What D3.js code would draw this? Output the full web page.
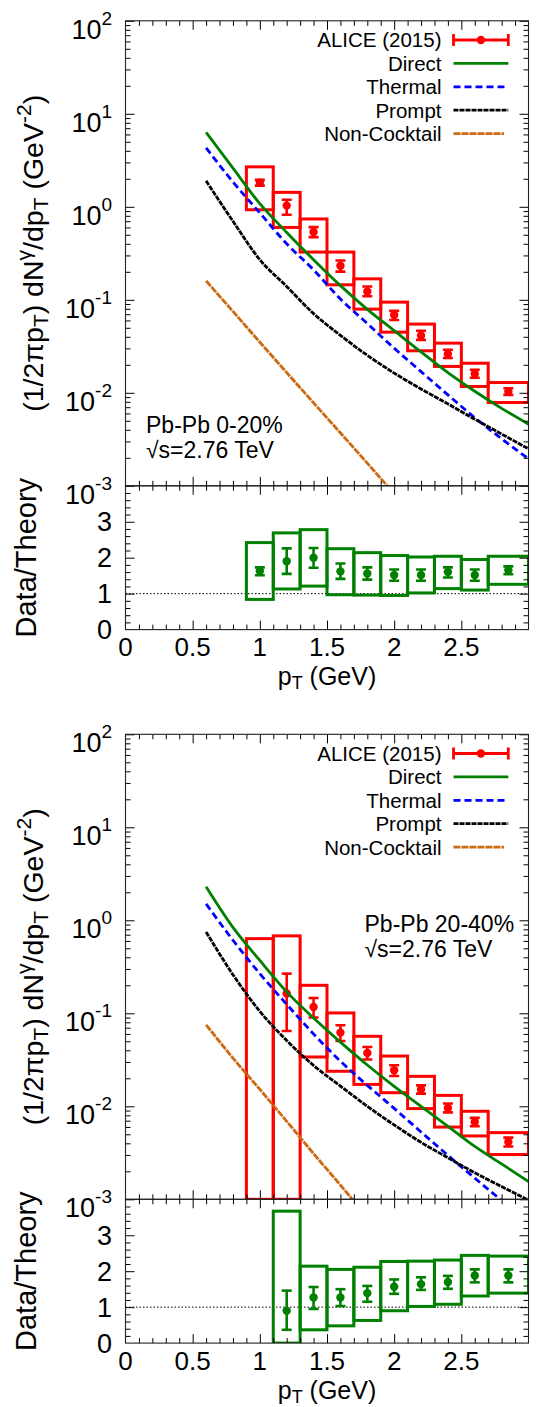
<!DOCTYPE html>
<html lang="en">
<head>
  <meta charset="UTF-8">
  <title>Direct photon spectra, Pb-Pb 2.76 TeV</title>
  <script src="https://d3js.org/d3.v7.min.js"></script>
  <style>
    * { margin: 0; padding: 0; box-sizing: border-box; }
    body { background: #fff; }
    svg { display: block; font-family: "Liberation Sans", Arial, sans-serif; }
  </style>
</head>
<body>
  <div id="chart"></div>

  <script>
    // bins (pT, GeV)
    const binCenter = [1.0, 1.2, 1.4, 1.6, 1.8, 2.0, 2.2, 2.4, 2.6, 2.85];
    const binLo = [0.9, 1.1, 1.3, 1.5, 1.7, 1.9, 2.1, 2.3, 2.5, 2.7];
    const binHi = [1.1, 1.3, 1.5, 1.7, 1.9, 2.1, 2.3, 2.5, 2.7, 3.0];

    // theory curves sampled in pT
    const curvePT = [0.6, 0.8, 1.0, 1.2, 1.4, 1.6, 1.8, 2.0, 2.2, 2.4, 2.6, 2.8, 3.0];

    // 0-20%
    const direct1 = [6.3, 2.6, 1.08, 0.53, 0.27, 0.142, 0.079, 0.0466, 0.0275, 0.0165, 0.0104, 0.0068, 0.0046];
    const thermal1 = [4.3, 1.85, 0.86, 0.40, 0.21, 0.102, 0.0556, 0.0302, 0.0169, 0.0095, 0.0054, 0.0032, 0.00195];
    const prompt1 = [1.9, 0.70, 0.27, 0.139, 0.071, 0.0415, 0.0253, 0.0163, 0.011, 0.0076, 0.0052, 0.0036, 0.0025];
    const nonCocktail1 = [0.16, 0.075, 0.035, 0.0165, 0.0078, 0.0037, 0.00175, 0.00082, null, null, null, null, null];

    const yield1 = [1.82, 1.03, 0.535, 0.232, 0.123, 0.0685, 0.0413, 0.0262, 0.0160, 0.0103];
    const stat1Lo = [1.69, 0.82, 0.472, 0.201, 0.109, 0.0607, 0.0371, 0.0237, 0.0145, 0.0095];
    const stat1Hi = [1.95, 1.19, 0.605, 0.265, 0.139, 0.076, 0.0464, 0.029, 0.0177, 0.0112];
    const sys1Lo = [0.93, 0.60, 0.326, 0.145, 0.0794, 0.0449, 0.0283, 0.0192, 0.0117, 0.00787];
    const sys1Hi = [2.69, 1.43, 0.74, 0.326, 0.168, 0.0944, 0.0548, 0.0342, 0.0208, 0.0129];

    const ratio1 = [1.63, 1.90, 2.00, 1.62, 1.56, 1.52, 1.52, 1.60, 1.52, 1.65];
    const ratio1StatLo = [1.51, 1.55, 1.72, 1.41, 1.39, 1.36, 1.36, 1.45, 1.36, 1.54];
    const ratio1StatHi = [1.73, 2.26, 2.27, 1.84, 1.73, 1.67, 1.67, 1.73, 1.67, 1.76];
    const ratio1SysLo = [0.84, 1.13, 1.21, 0.97, 0.96, 0.95, 1.02, 1.14, 1.10, 1.26];
    const ratio1SysHi = [2.42, 2.69, 2.78, 2.25, 2.14, 2.06, 2.02, 2.04, 1.95, 2.04];

    // 20-40%
    const direct2 = [2.3, 0.84, 0.37, 0.17, 0.089, 0.049, 0.0278, 0.0164, 0.0100, 0.0061, 0.0037, 0.0024, 0.00155];
    const thermal2 = [1.5, 0.61, 0.267, 0.125, 0.060, 0.0305, 0.0168, 0.0095, 0.0053, 0.00297, 0.00169, 0.00097, 0.00055];
    const prompt2 = [0.75, 0.26, 0.105, 0.051, 0.0275, 0.0165, 0.0100, 0.0063, 0.0041, 0.0028, 0.00193, 0.00137, 0.00098];
    const nonCocktail2 = [0.075, 0.033, 0.0152, 0.0069, 0.0031, 0.00142, 0.00064, null, null, null, null, null, null];

    const yield2 = [null, 0.163, 0.117, 0.062, 0.0374, 0.0244, 0.0152, 0.0096, 0.00678, 0.00413];
    const stat2Lo = [null, 0.0646, 0.090, 0.0504, 0.0318, 0.0212, 0.0137, 0.0086, 0.0061, 0.0037];
    const stat2Hi = [null, 0.267, 0.146, 0.0743, 0.0434, 0.0276, 0.0168, 0.0107, 0.0075, 0.0046];
    const sys2Lo = [null, null, 0.0339, 0.0238, 0.0172, 0.0140, 0.00945, 0.00598, 0.0048, 0.00303];
    const sys2Hi = [0.635, 0.68, 0.20, 0.1009, 0.0566, 0.0347, 0.0210, 0.0131, 0.00884, 0.00521];

    const ratio2 = [null, 0.90, 1.27, 1.27, 1.39, 1.57, 1.64, 1.70, 1.88, 1.88];
    const ratio2StatLo = [null, 0.37, 0.95, 1.03, 1.15, 1.37, 1.48, 1.51, 1.69, 1.69];
    const ratio2StatHi = [null, 1.46, 1.56, 1.50, 1.59, 1.77, 1.83, 1.87, 2.05, 2.05];
    const ratio2SysLo = [null, 0, 0.37, 0.48, 0.63, 0.90, 1.02, 1.08, 1.31, 1.39];
    const ratio2SysHi = [null, 3.67, 2.14, 2.05, 2.11, 2.27, 2.28, 2.31, 2.44, 2.42];

    // axis ticks
    const xTickLabels = [0, 0.5, 1, 1.5, 2, 2.5];
    const logExponents = [-3, -2, -1, 0, 1, 2];
    const ratioTickLabels = [0, 1, 2, 3];
    const legendLabels = ['ALICE (2015)', 'Direct', 'Thermal', 'Prompt', 'Non-Cocktail'];

    const width = 538, height = 1407;
    const plotLeft = 125.5, plotRight = 528.5;
    const mainH = 465, ratioH = 143.8;

    const RED = '#ff0000', GREEN = '#008000', BLUE = '#0000ff', ORANGE = '#cc6a12';

    const curveStyles = [
      { color: GREEN, dash: null },
      { color: BLUE, dash: '7,4' },
      { color: '#000', dash: '5,1' },
      { color: ORANGE, dash: '7,1' }
    ];

    const panels = [
      {
        top: 20.8,
        curves: [direct1, thermal1, prompt1, nonCocktail1],
        y: yield1, statLo: stat1Lo, statHi: stat1Hi, sysLo: sys1Lo, sysHi: sys1Hi,
        r: ratio1, rStatLo: ratio1StatLo, rStatHi: ratio1StatHi, rSysLo: ratio1SysLo, rSysHi: ratio1SysHi,
        note: ['Pb-Pb 0-20%', '√s=2.76 TeV'], noteX: 146, noteY: 432.7
      },
      {
        top: 734.3,
        curves: [direct2, thermal2, prompt2, nonCocktail2],
        y: yield2, statLo: stat2Lo, statHi: stat2Hi, sysLo: sys2Lo, sysHi: sys2Hi,
        r: ratio2, rStatLo: ratio2StatLo, rStatHi: ratio2StatHi, rSysLo: ratio2SysLo, rSysHi: ratio2SysHi,
        note: ['Pb-Pb 20-40%', '√s=2.76 TeV'], noteX: 364.5, noteY: 931.7
      }
    ];

    const svg = d3.select('#chart')
      .append('svg')
      .attr('width', width)
      .attr('height', height);

    svg.append('rect').attr('width', width).attr('height', height).attr('fill', '#fff');

    const x = d3.scaleLinear().domain([0, 3]).range([plotLeft, plotRight]);

    const xMinor = d3.range(1, 30).filter(i => i % 5 !== 0).map(i => i / 10);
    const xMajor = [0.5, 1, 1.5, 2, 2.5];
    const logMajor = logExponents.map(e => Math.pow(10, e));
    const logMinor = [];
    logExponents.slice(0, -1).forEach(e => d3.range(2, 10).forEach(m => logMinor.push(m * Math.pow(10, e))));
    const rMajor = [1, 2, 3];
    const rMinor = d3.range(1, 20).filter(i => i % 5 !== 0).map(i => i / 5);

    // inward ticks with a d3 axis, domain path removed
    function ticks(g, axis, values, size) {
      g.call(axis.tickValues(values).tickSize(size).tickFormat(''))
        .call(s => s.select('.domain').remove())
        .selectAll('line').attr('stroke', '#000').attr('stroke-width', 1);
    }

    function frameTicks(g, yScale, yMajor, yMinor, top, bottom) {
      ticks(g.append('g').attr('transform', `translate(${plotLeft},0)`), d3.axisLeft(yScale), yMajor, -9);
      ticks(g.append('g').attr('transform', `translate(${plotLeft},0)`), d3.axisLeft(yScale), yMinor, -5);
      ticks(g.append('g').attr('transform', `translate(${plotRight},0)`), d3.axisRight(yScale), yMajor, -9);
      ticks(g.append('g').attr('transform', `translate(${plotRight},0)`), d3.axisRight(yScale), yMinor, -5);
      ticks(g.append('g').attr('transform', `translate(0,${bottom})`), d3.axisBottom(x), xMajor, -9);
      ticks(g.append('g').attr('transform', `translate(0,${bottom})`), d3.axisBottom(x), xMinor, -5);
      ticks(g.append('g').attr('transform', `translate(0,${top})`), d3.axisTop(x), xMajor, -9);
      ticks(g.append('g').attr('transform', `translate(0,${top})`), d3.axisTop(x), xMinor, -5);
      g.append('rect')
        .attr('x', plotLeft).attr('y', top)
        .attr('width', plotRight - plotLeft).attr('height', bottom - top)
        .attr('fill', 'none').attr('stroke', '#222').attr('stroke-width', 1.1);
    }

    function errorBars(g, idx, xs, yScale, val, lo, hi, color) {
      const cap = 5;
      const bars = g.append('g').attr('stroke', color).attr('stroke-width', 2.6);
      bars.selectAll('line.v').data(idx).join('line')
        .attr('x1', i => x(xs[i])).attr('x2', i => x(xs[i]))
        .attr('y1', i => yScale(lo[i])).attr('y2', i => yScale(hi[i]));
      bars.selectAll('line.lo').data(idx).join('line')
        .attr('x1', i => x(xs[i]) - cap).attr('x2', i => x(xs[i]) + cap)
        .attr('y1', i => yScale(lo[i])).attr('y2', i => yScale(lo[i]));
      bars.selectAll('line.hi').data(idx).join('line')
        .attr('x1', i => x(xs[i]) - cap).attr('x2', i => x(xs[i]) + cap)
        .attr('y1', i => yScale(hi[i])).attr('y2', i => yScale(hi[i]));
      g.append('g').selectAll('circle').data(idx).join('circle')
        .attr('cx', i => x(xs[i])).attr('cy', i => yScale(val[i]))
        .attr('r', 4.2).attr('fill', color);
    }

    panels.forEach((p, pi) => {
      const mainTop = p.top, mainBottom = p.top + mainH;
      const ratioBottom = mainBottom + ratioH;
      const y = d3.scaleLog().domain([1e-3, 1e2]).range([mainBottom, mainTop]);
      const yr = d3.scaleLinear().domain([0, 4]).range([ratioBottom, mainBottom]);
      const g = svg.append('g');

      const defs = svg.append('defs');
      defs.append('clipPath').attr('id', `clipMain${pi}`).append('rect')
        .attr('x', plotLeft).attr('y', mainTop).attr('width', plotRight - plotLeft).attr('height', mainH);
      defs.append('clipPath').attr('id', `clipRatio${pi}`).append('rect')
        .attr('x', plotLeft).attr('y', mainBottom).attr('width', plotRight - plotLeft).attr('height', ratioH);

      // main panel: data boxes, points, curves
      const m = g.append('g').attr('clip-path', `url(#clipMain${pi})`);
      const boxIdx = d3.range(binCenter.length).filter(i => p.sysHi[i] != null);
      m.append('g').selectAll('rect').data(boxIdx).join('rect')
        .attr('x', i => x(binLo[i]))
        .attr('width', i => x(binHi[i]) - x(binLo[i]))
        .attr('y', i => y(p.sysHi[i]))
        .attr('height', i => y(p.sysLo[i] == null ? 1e-3 : p.sysLo[i]) - y(p.sysHi[i]))
        .attr('fill', 'none').attr('stroke', RED).attr('stroke-width', 3);

      const ptIdx = d3.range(binCenter.length).filter(i => p.y[i] != null);
      errorBars(m, ptIdx, binCenter, y, p.y, p.statLo, p.statHi, RED);

      p.curves.forEach((vals, ci) => {
        const line = d3.line()
          .defined(i => vals[i] != null)
          .x(i => x(curvePT[i]))
          .y(i => y(vals[i]))
          .curve(d3.curveMonotoneX);
        m.append('path')
          .attr('d', line(d3.range(curvePT.length)))
          .attr('fill', 'none')
          .attr('stroke', curveStyles[ci].color)
          .attr('stroke-width', 2.8)
          .attr('stroke-dasharray', curveStyles[ci].dash);
      });

      // ratio panel
      const r = g.append('g').attr('clip-path', `url(#clipRatio${pi})`);
      r.append('line')
        .attr('x1', plotLeft).attr('x2', plotRight)
        .attr('y1', yr(1)).attr('y2', yr(1))
        .attr('stroke', '#000').attr('stroke-width', 1).attr('stroke-dasharray', '1.5,2');
      const rIdx = d3.range(binCenter.length).filter(i => p.r[i] != null);
      r.append('g').selectAll('rect').data(rIdx).join('rect')
        .attr('x', i => x(binLo[i]))
        .attr('width', i => x(binHi[i]) - x(binLo[i]))
        .attr('y', i => yr(p.rSysHi[i]))
        .attr('height', i => yr(p.rSysLo[i]) - yr(p.rSysHi[i]))
        .attr('fill', 'none').attr('stroke', GREEN).attr('stroke-width', 3);
      errorBars(r, rIdx, binCenter, yr, p.r, p.rStatLo, p.rStatHi, GREEN);

      // frames and ticks
      frameTicks(g.append('g'), y, logMajor, logMinor, mainTop, mainBottom);
      frameTicks(g.append('g'), yr, rMajor, rMinor, mainBottom, ratioBottom);

      // log tick labels 10^n
      const lt = g.append('g').attr('text-anchor', 'end').attr('fill', '#000');
      logExponents.forEach(e => {
        const t = lt.append('text').attr('x', 112).attr('y', y(Math.pow(10, e)) + 18);
        t.append('tspan').attr('font-size', 27).text('10');
        t.append('tspan').attr('font-size', 19).attr('dy', -14).text(e);
      });

      // ratio tick labels
      g.append('g').selectAll('text').data(ratioTickLabels).join('text')
        .attr('x', 112).attr('y', v => yr(v) + 9.6)
        .attr('text-anchor', 'end').attr('font-size', 27)
        .text(v => v);

      // x tick labels
      g.append('g').selectAll('text').data(xTickLabels).join('text')
        .attr('x', v => x(v)).attr('y', ratioBottom + 26.5)
        .attr('text-anchor', 'middle').attr('font-size', 26)
        .text(v => v);

      // x title
      const xt = g.append('text')
        .attr('x', (plotLeft + plotRight) / 2).attr('y', ratioBottom + 55.5)
        .attr('text-anchor', 'middle').attr('font-size', 25);
      xt.append('tspan').text('p');
      xt.append('tspan').attr('font-size', 18).attr('dy', 4).text('T');
      xt.append('tspan').attr('dy', -4).text(' (GeV)');

      // y titles
      const yt = g.append('text')
        .attr('transform', `translate(43,${(mainTop + mainBottom) / 2}) rotate(-90)`)
        .attr('text-anchor', 'middle').attr('font-size', 28.5);
      yt.append('tspan').text('(1/2πp');
      yt.append('tspan').attr('font-size', 21).attr('dy', 5).text('T');
      yt.append('tspan').attr('dy', -5).text(') dN');
      yt.append('tspan').attr('font-size', 21).attr('dy', -12).text('γ');
      yt.append('tspan').attr('dy', 12).text('/dp');
      yt.append('tspan').attr('font-size', 21).attr('dy', 5).text('T');
      yt.append('tspan').attr('dy', -5).text(' (GeV');
      yt.append('tspan').attr('font-size', 21).attr('dy', -12).text('-2');
      yt.append('tspan').attr('dy', 12).text(')');

      g.append('text')
        .attr('transform', `translate(36,${(mainBottom + ratioBottom) / 2}) rotate(-90)`)
        .attr('text-anchor', 'middle').attr('font-size', 29)
        .text('Data/Theory');

      // annotation
      g.append('g').selectAll('text').data(p.note).join('text')
        .attr('x', p.noteX).attr('y', (d, i) => p.noteY + i * 25.3)
        .attr('font-size', 23)
        .text(d => d);

      // legend
      const lg = g.append('g');
      const rowY = k => mainTop + 19.2 + k * 23.4;
      lg.selectAll('text').data(legendLabels).join('text')
        .attr('x', 441.5).attr('y', (d, k) => rowY(k) + 7.4)
        .attr('text-anchor', 'end').attr('font-size', 20.5)
        .text(d => d);
      const sx0 = 453.5, sx1 = 508.3;
      const a = lg.append('g').attr('stroke', RED).attr('stroke-width', 2.8);
      a.append('line').attr('x1', sx0).attr('x2', sx1).attr('y1', rowY(0)).attr('y2', rowY(0));
      a.append('line').attr('x1', sx0).attr('x2', sx0).attr('y1', rowY(0) - 6).attr('y2', rowY(0) + 6);
      a.append('line').attr('x1', sx1).attr('x2', sx1).attr('y1', rowY(0) - 6).attr('y2', rowY(0) + 6);
      lg.append('circle').attr('cx', (sx0 + sx1) / 2).attr('cy', rowY(0)).attr('r', 4.2).attr('fill', RED);
      curveStyles.forEach((s, k) => {
        lg.append('line')
          .attr('x1', sx0).attr('x2', k === 3 ? 504 : sx1)
          .attr('y1', rowY(k + 1)).attr('y2', rowY(k + 1))
          .attr('stroke', s.color).attr('stroke-width', 2.8)
          .attr('stroke-dasharray', s.dash);
      });
    });
  </script>
</body>
</html>
